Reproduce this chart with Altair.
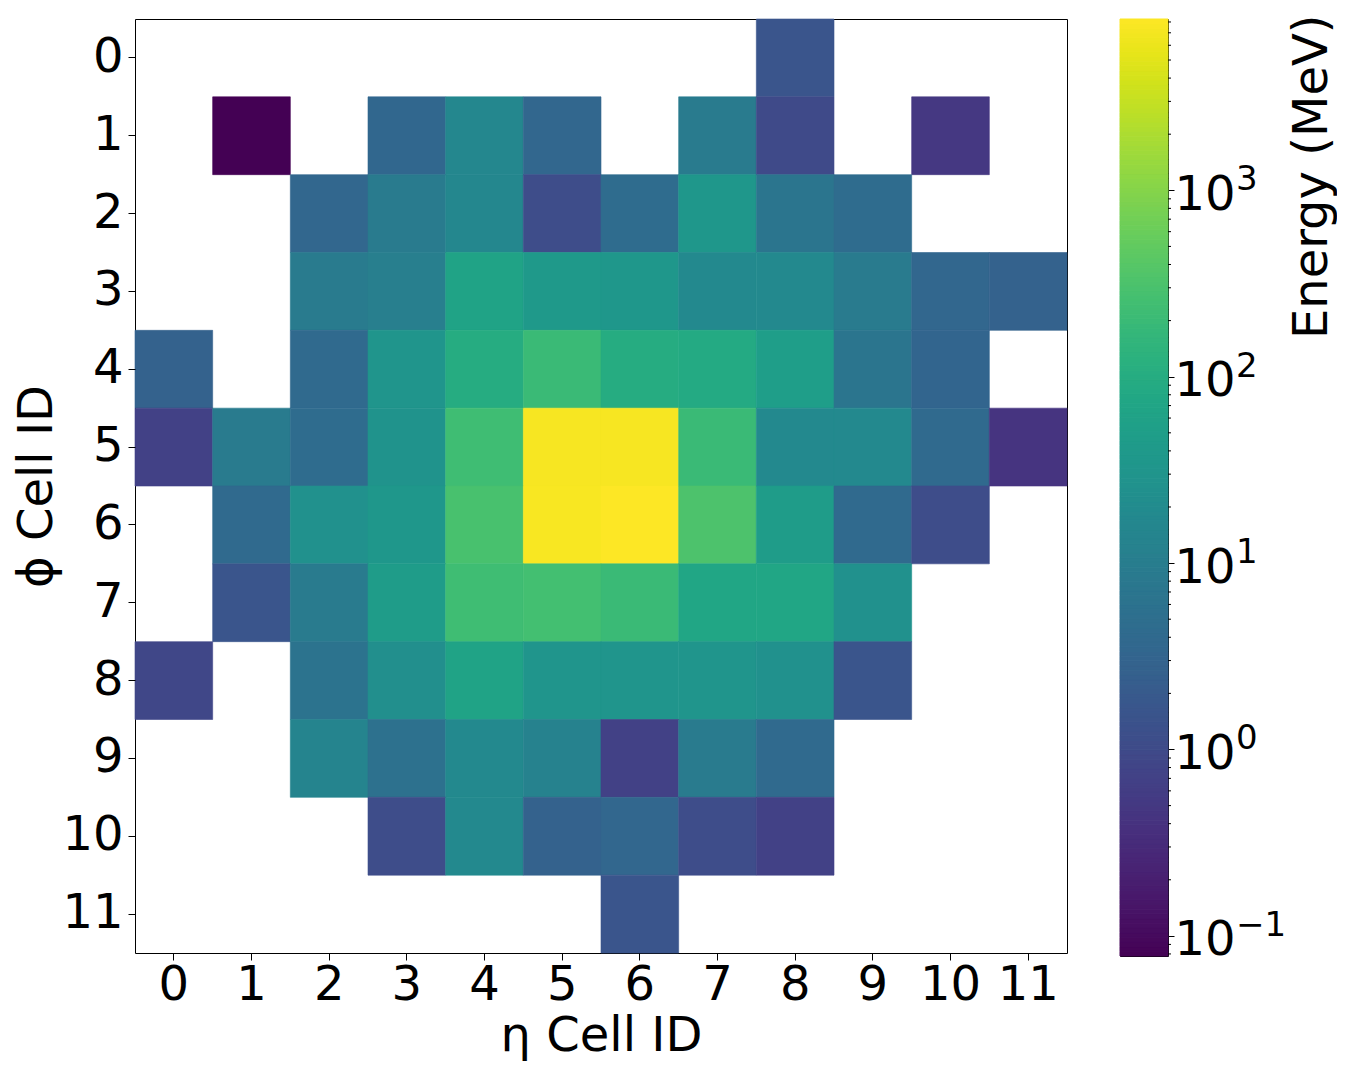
import altair as alt
import numpy as np
import pandas as pd

# ---- data (Energy in MeV, None = empty cell) ----
eta_ids = list(range(12))
phi_ids = list(range(12))
N = None
phi_0 = [N, N, N, N, N, N, N, N, 1.6, N, N, N]
phi_1 = [N, 0.078, N, 3.6, 16, 3.5, N, 9, 1.0, N, 0.5, N]
phi_2 = [N, N, 3.5, 9, 16, 1.1, 4.5, 36, 7, 4.5, N, N]
phi_3 = [N, N, 9, 11, 64, 40, 36, 18, 18, 9, 3.5, 2.8]
phi_4 = [2.8, N, 4, 32, 100, 200, 100, 90, 51, 7, 3.2, N]
phi_5 = [0.7, 9, 4.5, 29, 230, 7400, 7400, 200, 18, 18, 4, 0.44]
phi_6 = [N, 4, 26, 36, 290, 7600, 8300, 320, 46, 4, 1.1, N]
phi_7 = [N, 1.6, 9, 46, 230, 257, 200, 72, 72, 26, N, N]
phi_8 = [0.9, N, 6.3, 23, 64, 32, 32, 32, 26, 1.6, N, N]
phi_9 = [N, N, 14, 5.7, 18, 12.7, 0.7, 9, 4, N, N, N]
phi_10 = [N, N, N, 1.1, 18, 2.8, 3.5, 1.1, 0.7, N, N, N]
phi_11 = [N, N, N, N, N, N, 1.6, N, N, N, N, N]
rows = [phi_0, phi_1, phi_2, phi_3, phi_4, phi_5, phi_6, phi_7, phi_8, phi_9, phi_10, phi_11]

cbar_min = 0.078
cbar_max = 8300
major_ticks = [0.1, 1, 10, 100, 1000]
major_exponents = ["−1", "0", "1", "2", "3"]
minor_ticks = [0.08, 0.09,
               0.2, 0.3, 0.4, 0.5, 0.6, 0.7, 0.8, 0.9,
               2, 3, 4, 5, 6, 7, 8, 9,
               20, 30, 40, 50, 60, 70, 80, 90,
               200, 300, 400, 500, 600, 700, 800, 900,
               2000, 3000, 4000, 5000, 6000, 7000, 8000]

records = []
for p, row in zip(phi_ids, rows):
    for e, v in zip(eta_ids, row):
        if v is not None:
            records.append({"eta": e, "phi": p, "energy": v})
df = pd.DataFrame(records)

FONT = "DejaVu Sans"
LBL = 48
TTL = 48
color_scale = alt.Scale(type="log", domain=[cbar_min, cbar_max], scheme="viridis", nice=False)

heat = alt.Chart(df).mark_rect(strokeWidth=0.6).encode(
    x=alt.X("eta:O", scale=alt.Scale(domain=eta_ids, paddingInner=0, paddingOuter=0),
            axis=alt.Axis(title="η Cell ID", labelAngle=0, labelFontSize=LBL, titleFontSize=TTL,
                          tickSize=7, tickColor="black", domain=False, labelPadding=1,
                          titlePadding=3, labelColor="black", titleColor="black",
                          labelFont=FONT, titleFont=FONT, titleFontWeight="normal")),
    y=alt.Y("phi:O", scale=alt.Scale(domain=phi_ids, paddingInner=0, paddingOuter=0),
            axis=alt.Axis(title="ϕ Cell ID", labelFontSize=LBL, titleFontSize=TTL,
                          tickSize=7, tickColor="black", domain=False, labelPadding=5,
                          titlePadding=0, labelColor="black", titleColor="black",
                          labelFont=FONT, titleFont=FONT, titleFontWeight="normal")),
    color=alt.Color("energy:Q", scale=color_scale, legend=None),
    stroke=alt.Stroke("energy:Q", scale=color_scale, legend=None),
).properties(width=932, height=934)

# ---- colorbar drawn through the same colour scale ----
edges = np.logspace(np.log10(cbar_min), np.log10(cbar_max), 201)
cb = pd.DataFrame({"lo": edges[:-1], "hi": edges[1:], "mid": np.sqrt(edges[:-1] * edges[1:])})
minor_df = pd.DataFrame({"lo": minor_ticks})
exp_df = pd.DataFrame({"lo": major_ticks, "exp": major_exponents})

y_cb_scale = alt.Scale(type="log", domain=[cbar_min, cbar_max], nice=False)
cb_axis = alt.Axis(orient="right", values=major_ticks, labelExpr="'10'",
                   title="Energy (MeV)", titleAngle=270, titleAlign="right",
                   titleBaseline="top", titleX=120, titleY=-5,
                   labelFontSize=LBL, titleFontSize=TTL, tickSize=6, tickColor="black",
                   domain=False, grid=False, labelPadding=0,
                   labelColor="black", titleColor="black", labelFont=FONT,
                   titleFont=FONT, titleFontWeight="normal",
                   labelBaseline="alphabetic", labelOffset=19)

bar = alt.Chart(cb).mark_rect(strokeWidth=1).encode(
    y=alt.Y("lo:Q", scale=y_cb_scale, axis=cb_axis),
    y2="hi:Q",
    x=alt.value(0),
    x2=alt.value(48),
    color=alt.Color("mid:Q", scale=color_scale, legend=None),
    stroke=alt.Stroke("mid:Q", scale=color_scale, legend=None),
)

minor = alt.Chart(minor_df).mark_rule(color="black", strokeWidth=1).encode(
    y=alt.Y("lo:Q", scale=y_cb_scale, axis=cb_axis),
    x=alt.value(48),
    x2=alt.value(51),
)

exps = alt.Chart(exp_df).mark_text(align="left", baseline="alphabetic", fontSize=34,
                                   font=FONT, color="black", dy=0).encode(
    y=alt.Y("lo:Q", scale=y_cb_scale, axis=cb_axis),
    x=alt.value(116),
    text="exp:N",
)

colorbar = alt.layer(bar, minor, exps).properties(width=48, height=937)

chart = alt.hconcat(heat, colorbar, spacing=51).properties(
    padding={"top": 5, "left": 5, "right": 0, "bottom": 5}
).configure(font=FONT).configure_view(stroke="black", strokeWidth=1)

chart.save("out.html", embed_options={"renderer": "svg", "actions": False})
